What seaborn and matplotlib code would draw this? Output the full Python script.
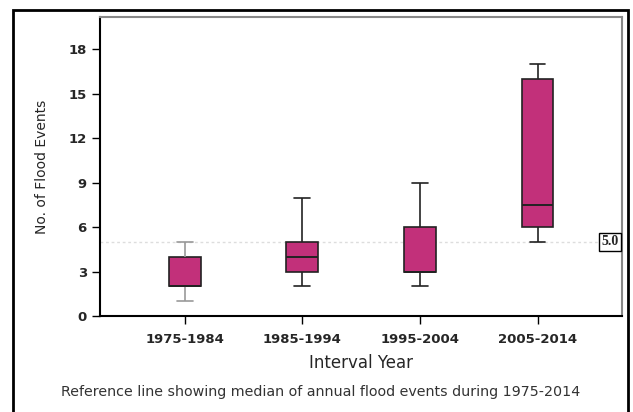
import matplotlib
matplotlib.use("Agg")
import matplotlib.pyplot as plt
import seaborn as sns
import pandas as pd
from matplotlib.patches import Rectangle

# annual flood counts per ten-year interval (estimated to match the box summaries)
intervals = ["1975-1984", "1985-1994", "1995-2004", "2005-2014"]
floods_1975 = [1, 2, 2, 2, 2, 2, 4, 4, 4, 5]
floods_1985 = [2, 3, 3, 3, 4, 4, 5, 5, 6, 8]
floods_1995 = [2, 3, 3, 3, 3, 3, 6, 6, 7, 9]
floods_2005 = [5, 6, 6, 6, 7, 8, 16, 16, 16, 17]
ref_median = 5.0
y_ticks = [0, 3, 6, 9, 12, 15, 18]

rows = []
for name, vals in zip(intervals, [floods_1975, floods_1985, floods_1995, floods_2005]):
    for v in vals:
        rows.append({"Interval Year": name, "Floods": v})
df = pd.DataFrame(rows)

sns.set_style("white")
plt.rcParams['font.family'] = ['DejaVu Sans']

fig = plt.figure(figsize=(6.33, 4.12), dpi=100)
ax = fig.add_axes([0.158, 0.233, 0.825, 0.726])

sns.boxplot(data=df, x="Interval Year", y="Floods", order=intervals, ax=ax,
            color="#C2307A", saturation=1, width=0.27, linewidth=1.2,
            linecolor="#222222", whis=1.5, showfliers=False,
            medianprops={"color": "#222222", "linewidth": 1.4})

# first interval whiskers appear grey
for line in ax.lines[:4]:
    line.set_color("#999999")

ax.axhline(ref_median, color="#dddddd", linestyle=(0, (2, 2)), linewidth=1, zorder=0)
ax.text(3.69, ref_median, f"{ref_median:.1f}", ha="right", va="center",
        fontsize=10, fontweight="bold", family="Liberation Serif",
        bbox=dict(boxstyle="square,pad=0.15", fc="white", ec="black", lw=1))

ax.set_ylim(0, 20.2)
ax.set_xlim(-0.72, 3.72)
ax.set_yticks(y_ticks)
ax.tick_params(axis="both", direction="out", length=6, width=1, color="black",
               left=True, bottom=True, labelsize=9.5)
ax.tick_params(axis="x", pad=6)
for lbl in ax.get_xticklabels() + ax.get_yticklabels():
    lbl.set_fontweight("bold")

ax.set_xlabel("Interval Year", fontsize=12, labelpad=6)
ax.set_ylabel("No. of Flood Events", fontsize=10, labelpad=14)

for side in ["left", "bottom"]:
    ax.spines[side].set_color("black")
    ax.spines[side].set_linewidth(1.5)
for side in ["top", "right"]:
    ax.spines[side].set_color("#888888")
    ax.spines[side].set_linewidth(1.5)

fig.text(0.507, 0.048, "Reference line showing median of annual flood events during 1975-2014",
         ha="center", va="center", fontsize=10.3, color="#333333")

fig.patches.append(Rectangle((13 / 633, -0.01), 615 / 633, 1 - 10 / 412 + 0.01,
                             transform=fig.transFigure, fill=False,
                             edgecolor="black", linewidth=2))

fig.savefig("out.png", dpi=100)
